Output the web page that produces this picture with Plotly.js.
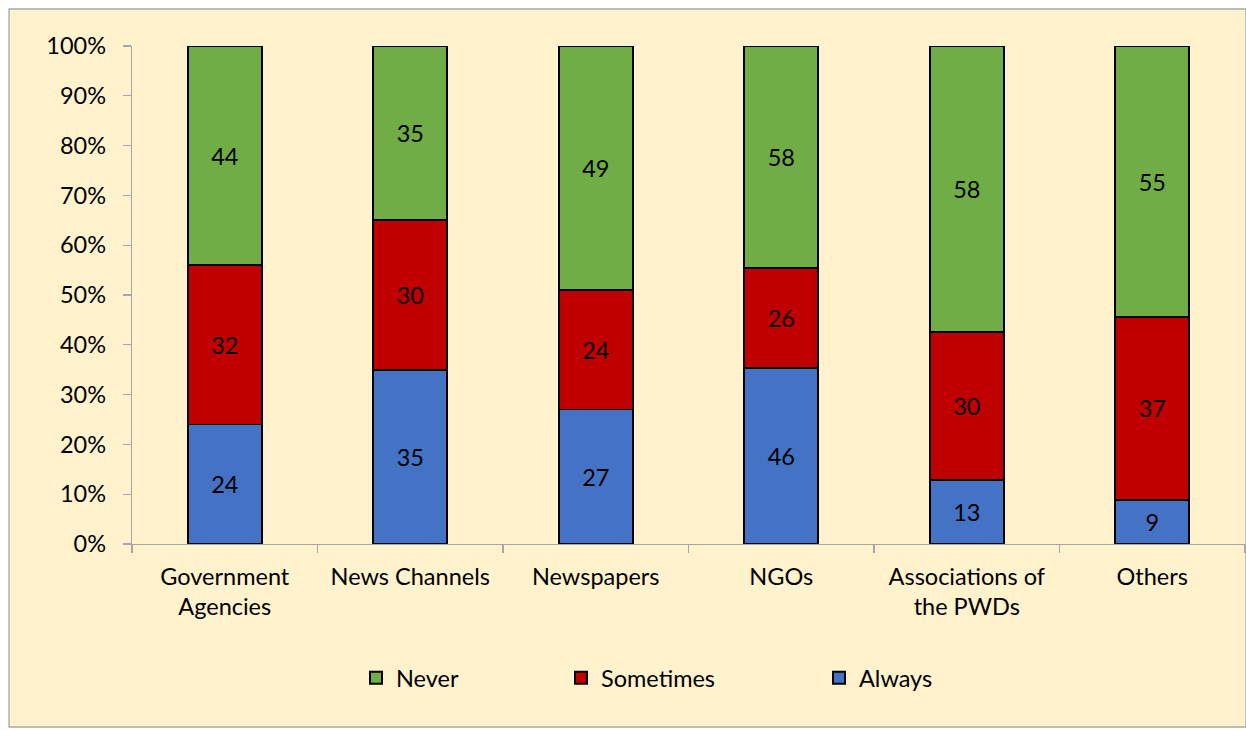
<!DOCTYPE html>
<html><head><meta charset="utf-8">
<script src="https://cdn.plot.ly/plotly-3.0.1.min.js"></script>
<style>html,body{margin:0;padding:0;background:#fff;}#chart{width:1246px;height:730px;}</style>
</head><body><div id="chart"></div>
<script>
const categories = ["Government<br>Agencies", "News Channels", "Newspapers", "NGOs", "Associations of<br>the PWDs", "Others"];
const always = [24, 35, 27, 46, 13, 9];
const sometimes = [32, 30, 24, 26, 30, 37];
const never = [44, 35, 49, 58, 58, 55];
const yTickVals = [0, 10, 20, 30, 40, 50, 60, 70, 80, 90, 100];
const yTickText = ["0%", "10%", "20%", "30%", "40%", "50%", "60%", "70%", "80%", "90%", "100%"];

const font = "Lato, 'Open Sans', sans-serif";
const FS = 23.5;
function mk(name, vals, color, leg) {
  return {
    type: 'bar', name: name, x: categories, y: vals, legend: leg,
    text: vals.map(String), texttemplate: '%{text}',
    textposition: 'inside', insidetextanchor: 'middle',
    textfont: {family: font, size: FS, color: '#000'},
    marker: {color: color, line: {color: '#000', width: 1.8}},
    width: 0.4, hoverinfo: 'skip'
  };
}
const data = [
  mk('Always', always, '#4472C4', 'legend3'),
  mk('Sometimes', sometimes, '#C00000', 'legend2'),
  mk('Never', never, '#70AD47', 'legend')
];
const W = 1113, H = 498;
function leg(px) {
  return {x: (px-132)/W, xanchor: 'left', y: (544-678)/H, yanchor: 'middle',
          font: {family: font, size: FS, color: '#000'}, bgcolor: 'rgba(0,0,0,0)',
          orientation: 'h', itemsizing: 'constant'};
}
const layout = {
  width: 1246, height: 730,
  margin: {l: 132, r: 1, t: 46, b: 186},
  paper_bgcolor: '#ffffff', plot_bgcolor: 'rgba(0,0,0,0)',
  barmode: 'stack', barnorm: 'percent',
  font: {family: font, size: FS, color: '#000'},
  showlegend: true,
  legend: leg(356), legend2: leg(561), legend3: leg(819),
  xaxis: {type: 'category', showline: true, linecolor: '#A6A6A6', linewidth: 1.3,
          ticks: 'outside', tickson: 'boundaries', ticklen: 8, tickcolor: '#A6A6A6', tickwidth: 1.3,
          showgrid: false, zeroline: false, tickfont: {family: font, size: FS, color: '#000'},
          ticklabelstandoff: 11},
  yaxis: {range: [0, 100], tickvals: yTickVals, ticktext: yTickText, showline: true,
          linecolor: '#A6A6A6', linewidth: 1.3, ticks: 'outside', ticklen: 8, tickcolor: '#A6A6A6',
          tickwidth: 1.3, showgrid: false, zeroline: false, ticklabelstandoff: 12,
          tickfont: {family: font, size: FS, color: '#000'}},
  shapes: [{type: 'rect', xref: 'paper', yref: 'paper', layer: 'below',
            x0: (9-132)/W, x1: (1246-132)/W, y0: (544-727)/H, y1: (544-9)/H,
            fillcolor: '#FFF2CC', line: {color: '#A6A6A6', width: 1.3}}]
};
Plotly.newPlot('chart', data, layout, {displayModeBar: false, staticPlot: true});
</script></body></html>
